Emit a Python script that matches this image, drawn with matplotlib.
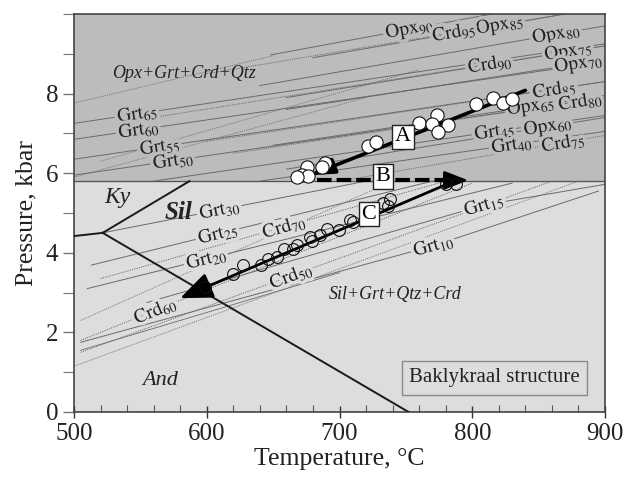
import numpy as np
import matplotlib.pyplot as plt
import matplotlib.patheffects as pe
from matplotlib.ticker import MultipleLocator

plt.rcParams['font.family'] = ['Liberation Serif', 'DejaVu Serif']
plt.rcParams['mathtext.fontset'] = 'stix'

# field boundary between the upper (Opx-bearing) and lower field, kbar
P_split = 5.8

# Al2SiO5 phase boundaries
ky_and_T = [500, 521.6]
ky_and_P = [4.42, 4.5]
ky_sil_T = [521.6, 587]
ky_sil_P = [4.5, 5.8]
and_sil_T = [521.6, 752]
and_sil_P = [4.5, 0.0]

# labelled isopleths
iso_names = ['Grt_{65}', 'Grt_{60}', 'Grt_{55}', 'Grt_{50}', 'Grt_{45}', 'Grt_{40}',
             'Opx_{90}', 'Opx_{85}', 'Opx_{80}', 'Opx_{75}', 'Opx_{70}', 'Opx_{65}', 'Opx_{60}',
             'Crd_{95}', 'Crd_{90}', 'Crd_{85}', 'Crd_{80}', 'Crd_{75}',
             'Grt_{30}', 'Grt_{25}', 'Grt_{20}', 'Grt_{15}', 'Grt_{10}',
             'Crd_{70}', 'Crd_{60}', 'Crd_{50}']
iso_T = [[500, 900], [500, 900], [500, 900], [500, 900], [560, 900], [640, 900],
         [648, 815], [680, 870], [640, 900], [660, 900], [660, 900], [650, 900], [660, 900],
         [600, 870], [560, 900], [600, 900], [620, 900], [700, 900],
         [521.6, 720], [513, 770], [510, 830], [555, 809, 900], [505, 771, 895],
         [520, 780], [505, 800], [505, 860]]
iso_P = [[7.25, 9.25], [6.85, 8.8], [6.35, 8.3], [5.95, 7.9], [5.8, 7.45], [5.8, 7.05],
         [8.97, 10.0], [8.9, 10.0], [8.2, 9.7], [7.9, 9.2], [7.6, 8.85], [6.7, 7.95], [6.1, 7.4],
         [8.5, 10.0], [7.4, 9.2], [6.8, 8.3], [6.5, 7.9], [5.8, 6.95],
         [4.5, 5.8], [3.69, 5.8], [3.1, 5.75], [2.75, 5.2, 5.72], [1.75, 4.18, 5.55],
         [3.35, 5.8], [1.8, 5.75], [1.5, 5.8]]
iso_lab_T = [548, 549, 565, 575, 817, 830,
             753, 821, 863.6, 872.6, 880.3, 844.3, 857.2,
             786.5, 813.5, 862, 881.6, 868.7,
             610, 608.7, 600, 809, 771,
             658.4, 561.3, 663.6]

# unlabelled isopleths
extra_T = [[500, 650], [520, 760], [500, 720], [505, 740], [500, 880], [505, 700]]
extra_P = [[7.76, 8.95], [6.3, 8.6], [5.9, 7.9], [2.3, 5.8], [1.15, 5.8], [1.55, 3.5]]
extra_kind = ['Crd', 'Crd', 'Crd', 'Crd', 'Crd', 'Grt']

# sample points
upper_T = [675.2, 671.5, 676.5, 689, 686.6, 668, 721.7, 727.5, 760, 773.7, 770, 782, 774,
           802.8, 815.3, 823.4, 830.2]
upper_P = [6.16, 5.95, 5.93, 6.25, 6.16, 5.9, 6.69, 6.79, 7.25, 7.46, 7.24, 7.21, 7.04,
           7.73, 7.88, 7.76, 7.86]
lower_T = [598.7, 620, 627, 640.9, 646.3, 653, 658.4, 665.2, 667.7, 677.8, 679, 685.3,
           690.3, 699.8, 707.9, 710.4, 733, 738, 736.5, 780, 787.8]
lower_P = [3.15, 3.47, 3.69, 3.69, 3.84, 3.89, 4.1, 4.09, 4.2, 4.4, 4.3, 4.45,
           4.59, 4.57, 4.82, 4.78, 5.24, 5.34, 5.18, 5.74, 5.74]

# P-T paths (start -> end)
path_A = [(840, 8.08), (678, 5.95)]
path_B = [(683, 5.82), (797, 5.82)]
path_C = [(785, 5.78), (580, 2.86)]

upper_col = '#bcbcbc'
lower_col = '#dddddd'

fig = plt.figure(figsize=(6.24, 4.79), dpi=100)
ax = fig.add_axes([0.1186, 0.1399, 0.851, 0.831])
ax.set_xlim(500, 900)
ax.set_ylim(0, 10)

ax.axhspan(0, P_split, color=lower_col, zorder=0)
ax.axhspan(P_split, 10, color=upper_col, zorder=0)
ax.axhline(P_split, color='#555555', lw=0.9, zorder=1)

for T, P, kind in zip(extra_T, extra_P, extra_kind):
    ls = (0, (1.2, 1.2)) if kind == 'Crd' else '-'
    ax.plot(T, P, color='#6a6a6a', lw=0.6, ls=ls, zorder=1)

for name, T, P, lt in zip(iso_names, iso_T, iso_P, iso_lab_T):
    kind = name[:3]
    ls = (0, (1.2, 1.2)) if kind == 'Crd' else '-'
    ax.plot(T, P, color='#6a6a6a', lw=0.7, ls=ls, zorder=1)
    lp = np.interp(lt, T, P)
    i = min(np.searchsorted(T, lt), len(T) - 1)
    ang = np.degrees(np.arctan2(P[i] - P[i - 1], T[i] - T[i - 1]))
    bg = upper_col if lp > P_split else lower_col
    sub = name.split('_')
    ax.text(lt, lp, r'$\mathrm{%s}_{%s}$' % (sub[0], sub[1].strip('{}')), fontsize=14,
            ha='center', va='center', rotation=ang, transform_rotates_text=True,
            rotation_mode='anchor', color='#222222', zorder=2,
            path_effects=[pe.withStroke(linewidth=5, foreground=bg)])

# Al2SiO5 lines
for T, P in [(ky_and_T, ky_and_P), (ky_sil_T, ky_sil_P), (and_sil_T, and_sil_P)]:
    ax.plot(T, P, color='#1a1a1a', lw=1.4, zorder=3)

# paths
ax.annotate('', xy=path_A[1], xytext=path_A[0], zorder=4,
            arrowprops=dict(arrowstyle='-|>,head_length=0.9,head_width=0.3', lw=2.6,
                            color='black', mutation_scale=16, shrinkA=0, shrinkB=0))
ax.plot([path_B[0][0], path_B[1][0] - 8], [path_B[0][1], path_B[1][1]], color='black',
        lw=3, dashes=(3.5, 1.2), zorder=4)
ax.annotate('', xy=path_B[1], xytext=(path_B[1][0] - 10, path_B[1][1]), zorder=4,
            arrowprops=dict(arrowstyle='-|>,head_length=0.9,head_width=0.35', lw=2,
                            color='black', mutation_scale=16, shrinkA=0, shrinkB=0))
ax.annotate('', xy=path_C[1], xytext=path_C[0], zorder=4,
            arrowprops=dict(arrowstyle='-|>,head_length=1.1,head_width=0.45', lw=2,
                            color='black', mutation_scale=18, shrinkA=0, shrinkB=0))

ax.plot(upper_T, upper_P, 'o', ms=9.5, mfc='white', mec='#111111', mew=0.8, zorder=5)
ax.plot(lower_T, lower_P, 'o', ms=8.5, mfc='none', mec='#111111', mew=0.8, zorder=5)

for lab, (tx, py) in zip(['A', 'B', 'C'], [(747.8, 6.91), (732.8, 5.92), (722, 4.97)]):
    ax.text(tx, py, lab, fontsize=16, ha='center', va='center', zorder=6,
            bbox=dict(boxstyle='square,pad=0.12', fc='white', ec='#222222', lw=1))

ax.text(582.9, 8.51, 'Opx+Grt+Crd+Qtz', fontsize=13, style='italic', ha='center',
        va='center', color='#222222', zorder=3)
ax.text(741.8, 2.94, 'Sil+Grt+Qtz+Crd', fontsize=13, style='italic', ha='center',
        va='center', color='#222222', zorder=3)
ax.text(532.4, 5.4, 'Ky', fontsize=17, style='italic', ha='center', va='center',
        color='#222222', zorder=3)
ax.text(578.5, 5.02, 'Sil', fontsize=18, style='italic', weight='bold', ha='center',
        va='center', color='#222222', zorder=3)
ax.text(564.8, 0.8, 'And', fontsize=16, style='italic', ha='center', va='center',
        color='#222222', zorder=3)
ax.text(816.5, 0.86, 'Baklykraal structure', fontsize=15, ha='center', va='center',
        color='#222222', zorder=3,
        bbox=dict(boxstyle='square,pad=0.35', fc=lower_col, ec='#8a8a8a', lw=1))

ax.set_xticks([500, 600, 700, 800, 900])
ax.xaxis.set_minor_locator(MultipleLocator(20))
ax.set_yticks([0, 2, 4, 6, 8])
ax.yaxis.set_minor_locator(MultipleLocator(1))
ax.tick_params(axis='x', which='major', direction='inout', length=9, width=1,
               labelsize=18, colors='#333333', labelcolor='#222222')
ax.tick_params(axis='x', which='minor', direction='in', length=5, width=0.8,
               colors='#555555')
ax.tick_params(axis='y', which='major', direction='out', length=8, width=1,
               labelsize=18, colors='#777777', labelcolor='#222222')
ax.tick_params(axis='y', which='minor', direction='out', length=8, width=0.8,
               colors='#777777')
for s in ax.spines.values():
    s.set_color('#444444')
    s.set_linewidth(1.2)

ax.set_xlabel('Temperature, °C', fontsize=18.5, color='#222222', labelpad=2)
ax.set_ylabel('Pressure, kbar', fontsize=18.5, color='#222222', labelpad=6)

fig.savefig('out.png', dpi=100)
